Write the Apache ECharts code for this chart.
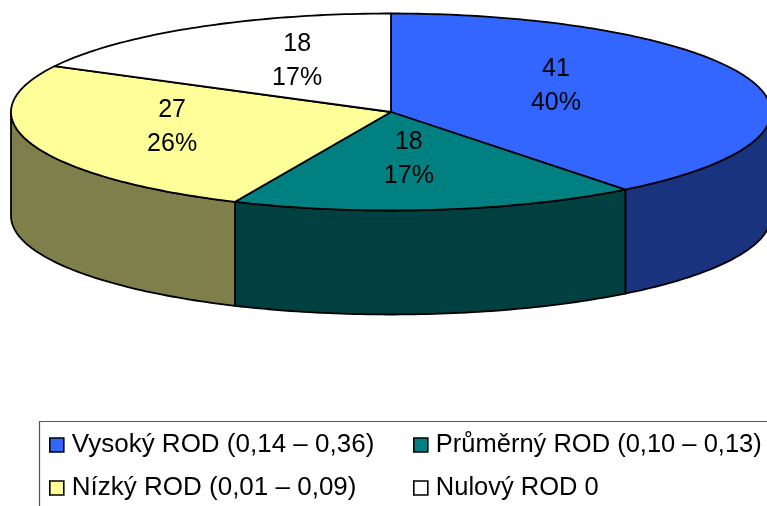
<!DOCTYPE html>
<html>
<head>
<meta charset="utf-8">
<style>html,body{margin:0;padding:0;background:#fff}#chart{width:767px;height:506px}</style>
<script src="https://cdn.jsdelivr.net/npm/echarts@6/dist/echarts.min.js"></script>
</head>
<body>
<div id="chart"></div>
<script>
const categories = ['Vysoký ROD (0,14 – 0,36)', 'Průměrný ROD (0,10 – 0,13)', 'Nízký ROD (0,01 – 0,09)', 'Nulový ROD 0'];
const counts = [41, 18, 27, 18];
const percentLabels = ['40%', '17%', '26%', '17%'];
const topColors = ['#3366FF', '#008080', '#FFFF99', '#FFFFFF'];
const wallColors = ['#19337F', '#004040', '#7F7F4C', '#7F7F7F'];

// Ellipse of the disc's top face and the height of its rim, in pixels.
const disc = { cx: 391, cy: 112, rx: 380, ry: 98.5, depth: 104 };
// Label centres as fractions of the radii, measured from the disc centre.
const labelAnchors = [[0.434, -0.265], [0.047, 0.475], [-0.576, 0.155], [-0.247, -0.512]];

const total = counts.reduce((a, b) => a + b, 0);
const STEP = Math.PI / 180;

// Angles run clockwise from the top of the ellipse.
function rimPoint(angle, dy) {
  return [disc.cx + disc.rx * Math.sin(angle), disc.cy - disc.ry * Math.cos(angle) + dy];
}

function arcPoints(from, to, dy) {
  const pts = [];
  const n = Math.max(1, Math.ceil(Math.abs(to - from) / STEP));
  for (let i = 0; i <= n; i++) pts.push(rimPoint(from + (to - from) * i / n, dy));
  return pts;
}

function sliceRenderer(index) {
  const before = counts.slice(0, index).reduce((a, b) => a + b, 0);
  return function (params, api) {
    const value = api.value(0);
    const start = before / total * 2 * Math.PI;
    const end = (before + value) / total * 2 * Math.PI;
    const line = { stroke: '#000', lineWidth: 1.8, lineJoin: 'round' };
    const children = [];

    // The rim is only visible along the front half of the ellipse.
    const wallFrom = Math.max(start, Math.PI / 2);
    const wallTo = Math.min(end, 3 * Math.PI / 2);
    if (wallTo > wallFrom) {
      const upper = arcPoints(wallFrom, wallTo, 0);
      const lower = arcPoints(wallTo, wallFrom, disc.depth);
      children.push({
        type: 'polygon', z2: 1,
        shape: { points: upper.concat(lower) },
        style: Object.assign({ fill: wallColors[index] }, line)
      });
    }

    children.push({
      type: 'polygon', z2: 2,
      shape: { points: [[disc.cx, disc.cy]].concat(arcPoints(start, end, 0)) },
      style: Object.assign({ fill: topColors[index] }, line)
    });

    const anchor = labelAnchors[index];
    children.push({
      type: 'text', z2: 3,
      style: {
        x: disc.cx + anchor[0] * disc.rx,
        y: disc.cy + anchor[1] * disc.ry,
        text: value + '\n' + percentLabels[index],
        align: 'center', verticalAlign: 'middle',
        fontFamily: '"Liberation Sans", Arial, sans-serif',
        fontSize: 25, lineHeight: 34, fill: '#000'
      }
    });
    return { type: 'group', children };
  };
}

const legendBase = {
  orient: 'vertical', top: 430, itemWidth: 14, itemHeight: 14, itemGap: 13,
  icon: 'rect', padding: 0, selectedMode: false,
  itemStyle: { borderColor: '#000', borderWidth: 1.6 }
};

function legendText(fontSize) {
  return { fontFamily: '"Liberation Sans", Arial, sans-serif', fontSize, lineHeight: 30, color: '#000', padding: [0, 0, 0, 3] };
}

const chart = echarts.init(document.getElementById('chart'), null, { renderer: 'canvas' });
chart.setOption({
  animation: false,
  backgroundColor: '#fff',
  legend: [
    Object.assign({}, legendBase, { left: 49, data: [categories[0], categories[2]], textStyle: legendText(26) }),
    Object.assign({}, legendBase, { left: 413, data: [categories[1], categories[3]], textStyle: legendText(25.5) })
  ],
  graphic: [{
    type: 'rect', silent: true,
    shape: { x: 39.5, y: 421.5, width: 800, height: 120 },
    style: { fill: 'none', stroke: '#555', lineWidth: 1.2 }
  }],
  series: categories.map((name, i) => ({
    type: 'custom',
    name,
    coordinateSystem: 'none',
    itemStyle: { color: topColors[i] },
    renderItem: sliceRenderer(i),
    data: [[counts[i]]]
  }))
});
</script>
</body>
</html>
